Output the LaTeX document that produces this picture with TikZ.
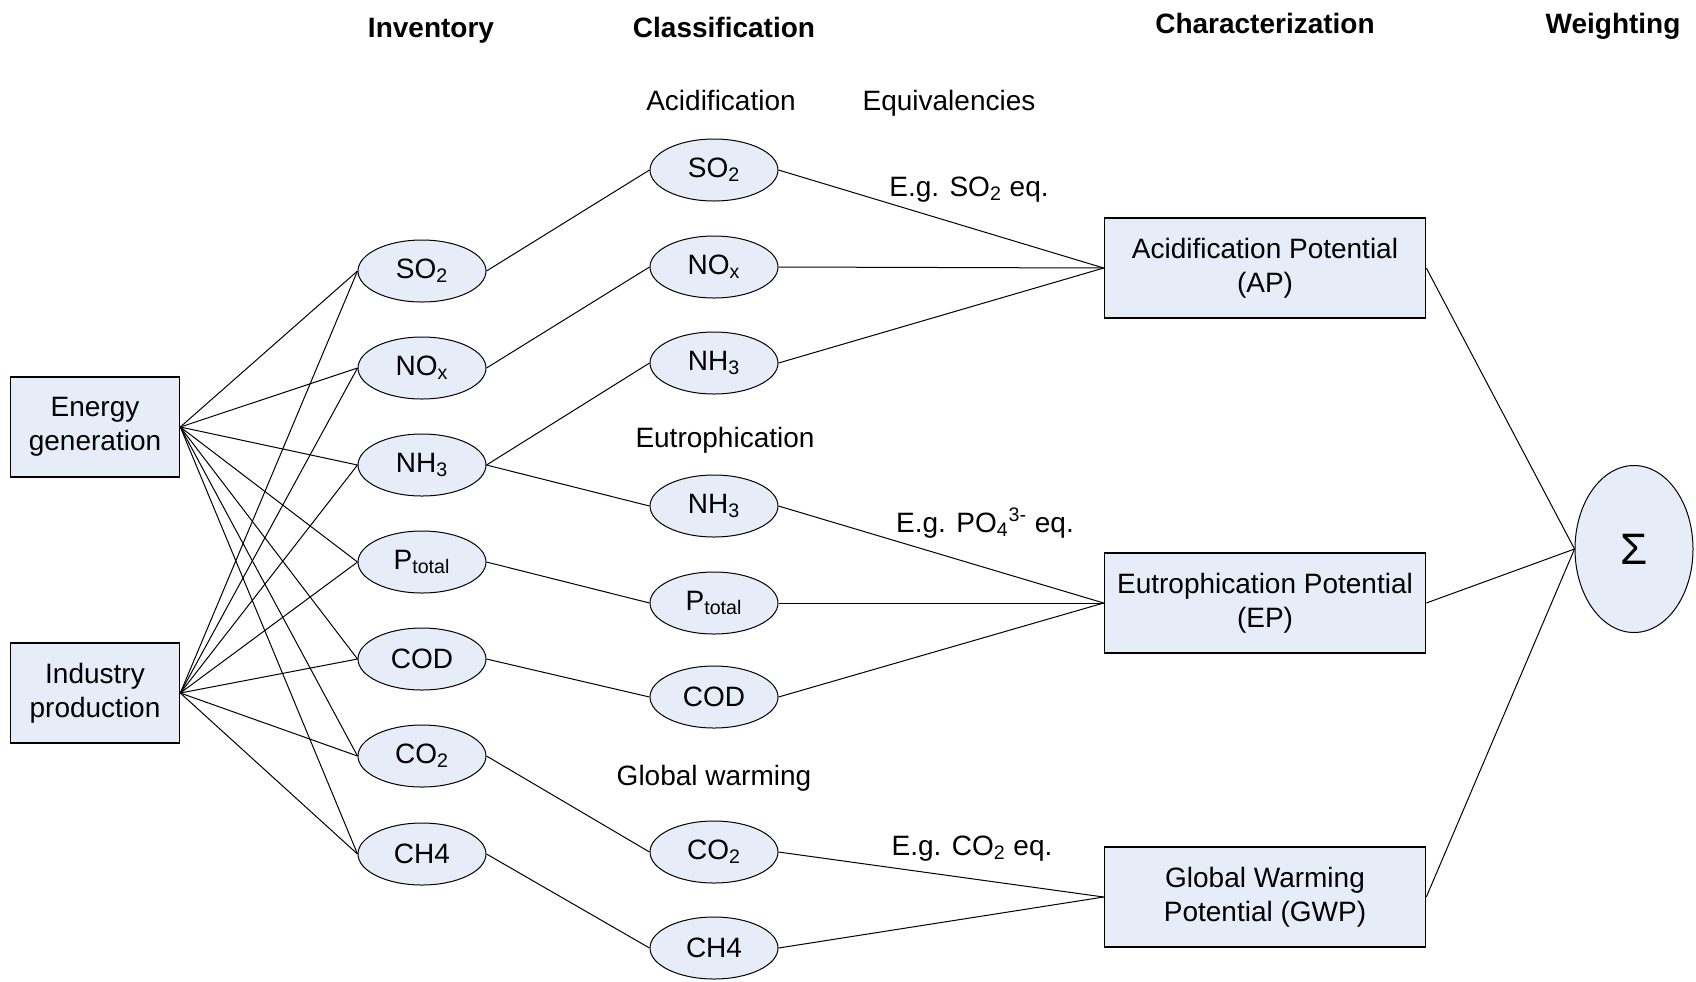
\documentclass[tikz,border=0pt]{standalone}
\usepackage{fontspec}
\setmainfont{Liberation Sans}
\usetikzlibrary{shapes.geometric}
\definecolor{paleblue}{RGB}{230,236,248}

\begin{document}
\begin{tikzpicture}[x=0.5pt, y=-0.5pt, font=\fontsize{14}{16.8}\selectfont,
  source/.style={draw, line width=0.8pt, rectangle, fill=paleblue, minimum width=84.5pt, minimum height=50pt, inner sep=0pt, align=center},
  impact/.style={draw, line width=0.8pt, rectangle, fill=paleblue, minimum width=160.5pt, minimum height=50pt, inner sep=0pt, align=center},
  emission/.style={draw, line width=0.5pt, ellipse, fill=paleblue, minimum width=64pt, minimum height=31pt, inner sep=0pt},
  header/.style={anchor=base, font=\fontsize{14}{16.8}\selectfont\bfseries},
  caption/.style={anchor=base},
  link/.style={line width=0.5pt}]
\useasboundingbox (0,0) rectangle (1696,981);

% Column headers
\node[header] (hinv) at (431,37) {Inventory};
\node[header] (hcls) at (724,37) {Classification};
\node[header] (hchar) at (1265,33) {Characterization};
\node[header] (hweight) at (1613,33) {Weighting};

% Group labels
\node[caption] (acid) at (721,110) {Acidification};
\node[caption] (equiv) at (949,110) {Equivalencies};
\node[caption] (eutro) at (725,447) {Eutrophication};
\node[caption] (glob) at (714,785) {Global warming};

% Sources
\node[source] (egen) at (95,427) {Energy\\generation};
\node[source] (iprod) at (95,693) {Industry\\production};

% Inventory
\node[emission] (iso2) at (422,271) {SO\textsubscript{2}};
\node[emission] (inox) at (422,368) {NO\textsubscript{x}};
\node[emission] (inh3) at (422,465) {NH\textsubscript{3}};
\node[emission] (iptot) at (422,562) {P\textsubscript{total}};
\node[emission] (icod) at (422,659) {COD};
\node[emission] (ico2) at (422,756) {CO\textsubscript{2}};
\node[emission] (ich4) at (422,854) {CH4};

% Classification
\node[emission] (cso2) at (714,170) {SO\textsubscript{2}};
\node[emission] (cnox) at (714,267) {NO\textsubscript{x}};
\node[emission] (cnh3) at (714,363) {NH\textsubscript{3}};
\node[emission] (cnh3e) at (714,506) {NH\textsubscript{3}};
\node[emission] (cptot) at (714,603) {P\textsubscript{total}};
\node[emission] (ccod) at (714,697) {COD};
\node[emission] (cco2) at (714,852) {CO\textsubscript{2}};
\node[emission] (cch4) at (714,948) {CH4};

% Characterization
\node[impact] (ap) at (1265,268) {Acidification Potential\\(AP)};
\node[impact] (ep) at (1265,603) {Eutrophication Potential\\(EP)};
\node[impact] (gwp) at (1265,897) {Global Warming\\Potential (GWP)};

% Weighting
\node[emission, minimum width=59pt, minimum height=83.5pt] (sigma) at (1634,549) {\fontsize{22}{26}\selectfont Σ};

% Equivalency labels
\node[caption] (eqso2) at (969,196) {E.g. SO\textsubscript{2} eq.};
\node[caption] (eqpo4) at (985,532) {E.g. PO\textsubscript{4}\textsuperscript{3-} eq.};
\node[caption] (eqco2) at (972,855) {E.g. CO\textsubscript{2} eq.};

% Connectors
\foreach \e in {iso2,inox,inh3,iptot,icod,ico2,ich4}
  \draw[link] (egen.east) -- (\e.west);
\foreach \e in {iso2,inox,inh3,iptot,icod,ico2,ich4}
  \draw[link] (iprod.east) -- (\e.west);
\foreach \a/\b in {iso2/cso2, inox/cnox, inh3/cnh3, inh3/cnh3e, iptot/cptot, icod/ccod, ico2/cco2, ich4/cch4}
  \draw[link] (\a.east) -- (\b.west);
\foreach \c in {cso2,cnox,cnh3}
  \draw[link] (\c.east) -- (ap.west);
\foreach \c in {cnh3e,cptot,ccod}
  \draw[link] (\c.east) -- (ep.west);
\foreach \c in {cco2,cch4}
  \draw[link] (\c.east) -- (gwp.west);
\foreach \p in {ap,ep,gwp}
  \draw[link] (\p.east) -- (sigma.west);
\end{tikzpicture}
\end{document}
